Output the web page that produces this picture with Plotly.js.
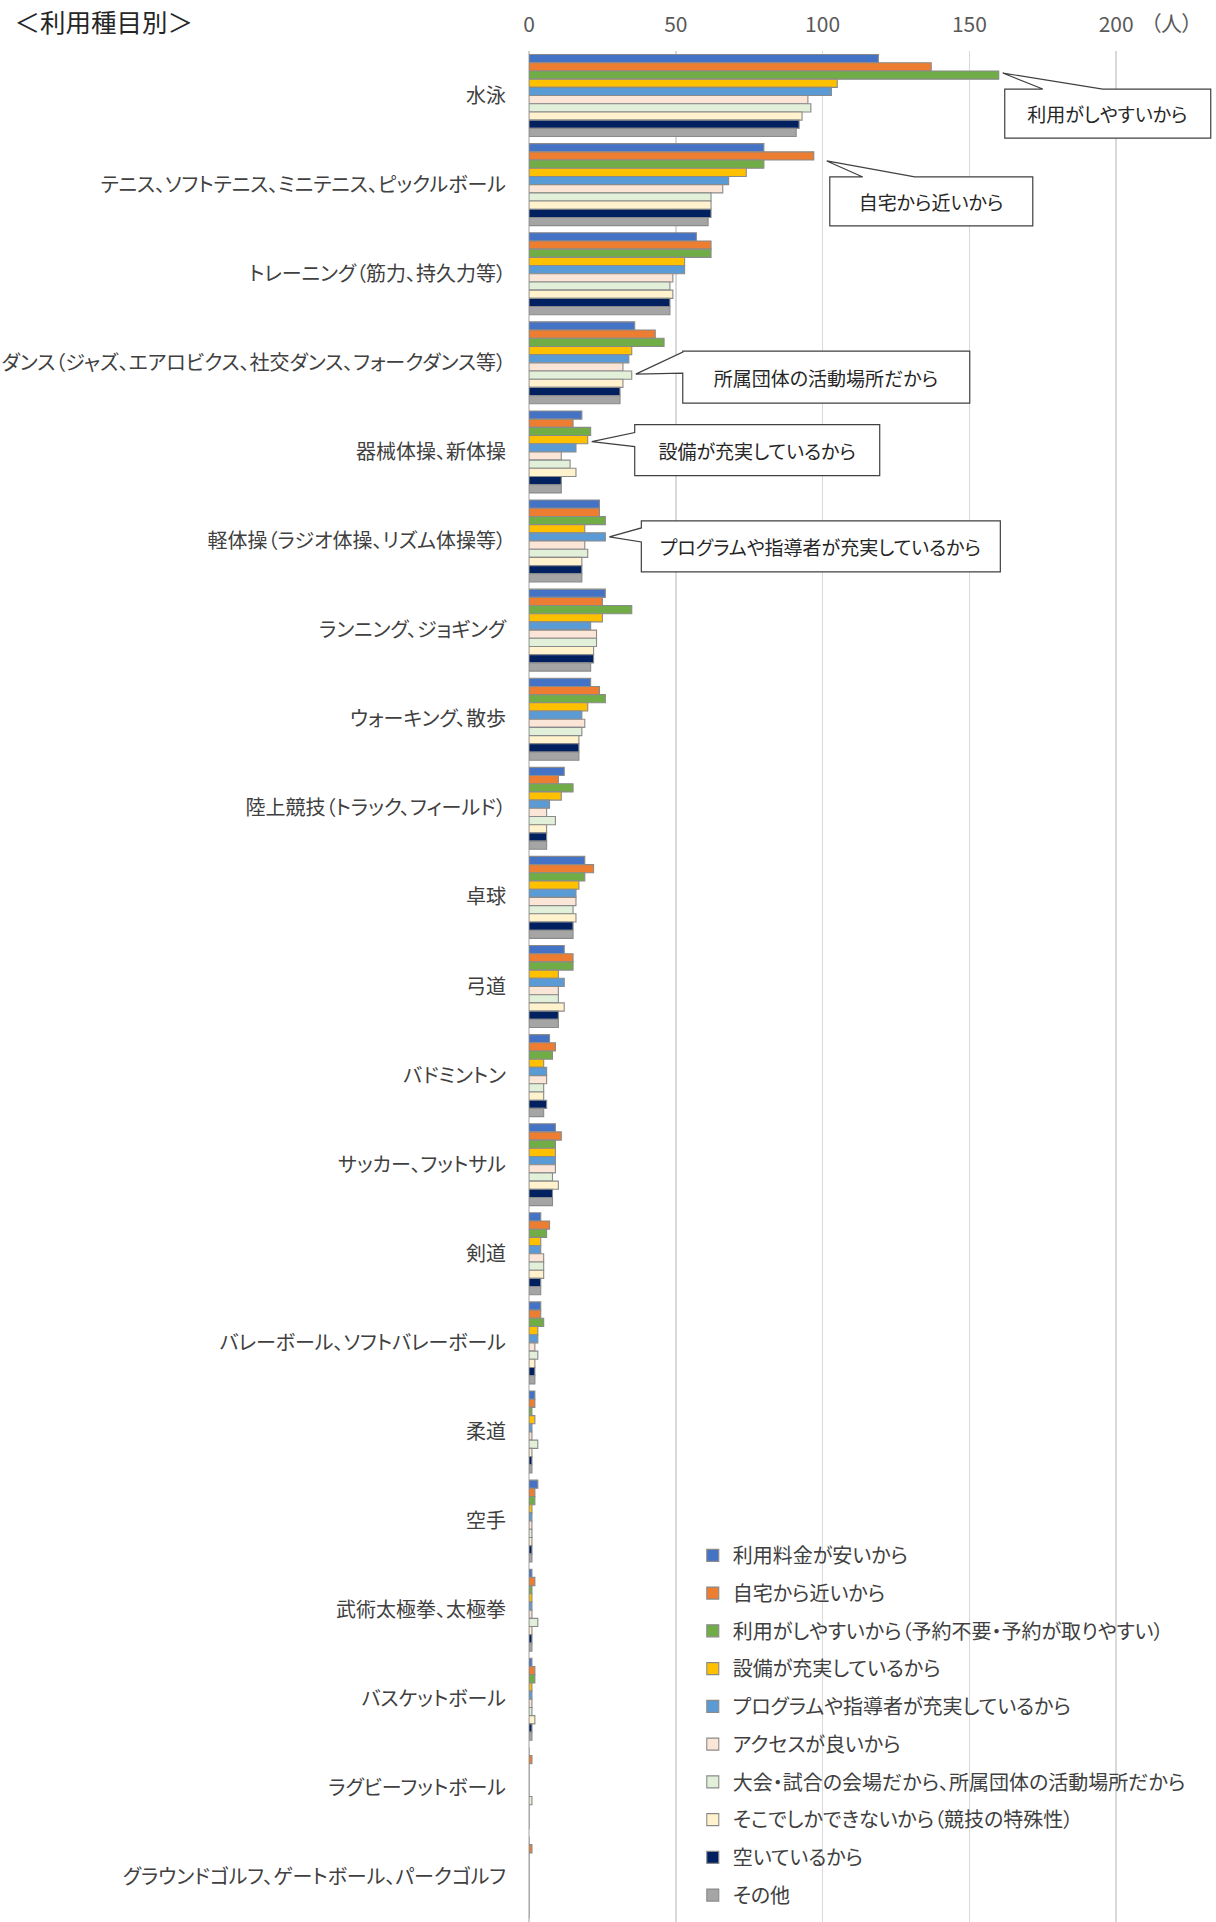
<!DOCTYPE html>
<html><head><meta charset="utf-8">
<script src="https://cdn.plot.ly/plotly-3.0.1.min.js"></script>
<style>
html,body{margin:0;padding:0;background:#fff;}
.main-svg text{font-feature-settings:"palt" 1;}
</style>
</head><body>
<div id="chart" style="width:1216px;height:1922px;"></div>
<script>
const categories = [
  '水泳',
  'テニス、ソフトテニス、ミニテニス、ピックルボール',
  'トレーニング（筋力、持久力等）',
  'ダンス（ジャズ、エアロビクス、社交ダンス、フォークダンス等）',
  '器械体操、新体操',
  '軽体操（ラジオ体操、リズム体操等）',
  'ランニング、ジョギング',
  'ウォーキング、散歩',
  '陸上競技（トラック、フィールド）',
  '卓球',
  '弓道',
  'バドミントン',
  'サッカー、フットサル',
  '剣道',
  'バレーボール、ソフトバレーボール',
  '柔道',
  '空手',
  '武術太極拳、太極拳',
  'バスケットボール',
  'ラグビーフットボール',
  'グラウンドゴルフ、ゲートボール、パークゴルフ'
];

const seriesNames = [
  '利用料金が安いから',
  '自宅から近いから',
  '利用がしやすいから（予約不要・予約が取りやすい）',
  '設備が充実しているから',
  'プログラムや指導者が充実しているから',
  'アクセスが良いから',
  '大会・試合の会場だから、所属団体の活動場所だから',
  'そこでしかできないから（競技の特殊性）',
  '空いているから',
  'その他'
];

const feeLow     = [119, 80, 57, 36, 18, 24, 26, 21, 12, 19, 12, 7, 9, 4, 4, 2, 3, 1, 1, 0, 0];
const nearHome   = [137, 97, 62, 43, 15, 24, 25, 24, 10, 22, 15, 9, 11, 7, 4, 2, 2, 2, 2, 1, 1];
const easyToUse  = [160, 80, 62, 46, 21, 26, 35, 26, 15, 19, 15, 8, 9, 6, 5, 1, 2, 1, 2, 0, 0];
const facilities = [105, 74, 53, 35, 20, 19, 25, 20, 11, 17, 10, 5, 9, 4, 3, 2, 1, 1, 1, 0, 0];
const programs   = [103, 68, 53, 34, 16, 26, 21, 18, 7, 16, 12, 6, 9, 4, 3, 1, 1, 1, 1, 0, 0];
const access     = [95, 66, 49, 32, 11, 19, 23, 19, 6, 16, 10, 6, 9, 5, 2, 1, 1, 1, 1, 0, 0];
const venue      = [96, 62, 48, 35, 14, 20, 23, 18, 9, 15, 10, 5, 8, 5, 3, 3, 1, 3, 1, 1, 0];
const onlyThere  = [93, 62, 49, 32, 16, 18, 22, 17, 6, 16, 12, 5, 10, 5, 2, 1, 1, 1, 2, 0, 0];
const available  = [92, 62, 48, 31, 11, 18, 22, 17, 6, 15, 10, 6, 8, 4, 2, 1, 1, 1, 1, 0, 0];
const other      = [91, 61, 48, 31, 11, 18, 21, 17, 6, 15, 10, 5, 8, 4, 2, 1, 1, 1, 1, 0, 0];

const seriesValues = [feeLow, nearHome, easyToUse, facilities, programs, access, venue, onlyThere, available, other];

const xTickVals = [0, 50, 100, 150, 200];
const unitLabel = '（人）';
const chartTitle = '＜利用種目別＞';

const colors = ['#4472C4','#ED7D31','#70AD47','#FFC000','#5B9BD5','#FBE5D6','#E2F0D9','#FFF2CC','#002060','#A5A5A5'];

const FONT = '"Noto Sans CJK JP", "Noto Sans", sans-serif';
const BARGAP = 0.08;

const traces = seriesNames.map((name, i) => ({
  type: 'bar',
  orientation: 'h',
  name: name,
  legendgroup: 'g' + i,
  y: categories,
  x: seriesValues[i],
  marker: {color: colors[i], line: {color: '#8a8a8a', width: 1.1}},
  hoverinfo: 'x+name'
}));

// callouts: which bar they point at and the bubble geometry (pixels, screen y-down, relative to tip)
const callouts = [
  {text: '利用がしやすいから', cat: 0, series: 2, tipDx: 4, dy: -2, box: [2, 16, 206, 49], edge: 'top', base: [40, 100]},
  {text: '自宅から近いから', cat: 1, series: 1, tipDx: 13, dy: 5, box: [3, 16, 203, 49], edge: 'top', base: [36, 88]},
  {text: '所属団体の活動場所だから', cat: 3, series: 6, tipDx: 4, dy: -1, box: [47, -23, 287, 52], edge: 'left', base: [-22, -1]},
  {text: '設備が充実しているから', cat: 4, series: 3, tipDx: 4, dy: 2, box: [43, -17, 245, 51], edge: 'left', base: [-9, 5]},
  {text: 'プログラムや指導者が充実しているから', cat: 5, series: 4, tipDx: 4, dy: 0, box: [32, -16, 359, 51], edge: 'left', base: [-9, 5]}
];

const shapes = [];
const annotations = [];
const nSeries = seriesNames.length;
const groupW = 1 - BARGAP;
callouts.forEach(c => {
  const yPos = c.cat - groupW / 2 + groupW / nSeries * (c.series + 0.5);
  const xVal = seriesValues[c.series][c.cat];
  const [L0, T0, W, H] = c.box;
  const tx = c.tipDx, ty = c.dy;
  const L = L0 + tx, T = T0 + ty;
  let pts;
  if (c.edge === 'top') {
    pts = [[L, T], [tx + c.base[0], T], [tx, ty], [tx + c.base[1], T], [L + W, T], [L + W, T + H], [L, T + H]];
  } else {
    pts = [[L, T], [L + W, T], [L + W, T + H], [L, T + H], [L, ty + c.base[1]], [tx, ty], [L, ty + c.base[0]]];
  }
  const path = 'M' + pts.map(p => p[0] + ',' + (-p[1])).join('L') + 'Z';
  shapes.push({
    type: 'path', xref: 'x', yref: 'y', xsizemode: 'pixel', ysizemode: 'pixel',
    xanchor: xVal, yanchor: yPos, path: path,
    fillcolor: '#ffffff', line: {color: '#404040', width: 1.2}, layer: 'above'
  });
  annotations.push({
    x: xVal, y: yPos, xref: 'x', yref: 'y', showarrow: false,
    text: c.text, xshift: L + W / 2, yshift: -(T + H / 2),
    font: {family: FONT, size: 19, color: '#262626'}, xanchor: 'center', yanchor: 'middle'
  });
});

annotations.push({
  xref: 'paper', yref: 'paper', x: 0.984, y: 1.0155, xanchor: 'right', yanchor: 'middle',
  text: unitLabel, showarrow: false, font: {family: FONT, size: 21, color: '#595959'}
});

const layout = {
  width: 1216, height: 1922,
  margin: {l: 529.3, r: 0, t: 51, b: 0, pad: 0, autoexpand: false},
  paper_bgcolor: '#ffffff', plot_bgcolor: '#ffffff',
  font: {family: FONT, color: '#404040'},
  title: {text: chartTitle, x: 0.012, xanchor: 'left', xref: 'container', y: 0.988, yanchor: 'middle', yref: 'container',
          font: {family: FONT, size: 25.5, color: '#262626'}},
  barmode: 'group', bargap: BARGAP, bargroupgap: 0,
  xaxis: {
    side: 'top', range: [0, 234], autorange: false, tickvals: xTickVals, ticktext: xTickVals.map(String),
    showgrid: true, gridcolor: '#d9d9d9', gridwidth: 1.5,
    zeroline: true, zerolinecolor: '#d0d0d0', zerolinewidth: 2,
    showline: false, ticks: '', ticklabelstandoff: 14, automargin: false,
    tickfont: {family: FONT, size: 21, color: '#595959'}, fixedrange: true
  },
  yaxis: {
    type: 'category', range: [categories.length - 0.5, -0.5], autorange: false,
    showgrid: false, zeroline: false, showline: false, automargin: false,
    ticks: '', ticklabelstandoff: 22, tickfont: {family: FONT, size: 20, color: '#404040'}, fixedrange: true
  },
  legend: {
    x: 0.2384, xanchor: 'left', y: 0.2064, yanchor: 'top', orientation: 'v',
    traceorder: 'grouped', tracegroupgap: 8.75, bgcolor: 'rgba(0,0,0,0)',
    font: {family: FONT, size: 20, color: '#404040'}
  },
  shapes: shapes,
  annotations: annotations,
  showlegend: true
};

Plotly.newPlot('chart', traces, layout, {displayModeBar: false, staticPlot: true});
</script>
</body></html>
